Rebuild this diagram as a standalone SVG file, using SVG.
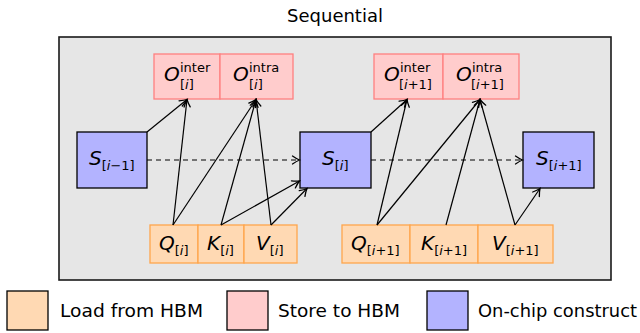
<svg xmlns="http://www.w3.org/2000/svg" width="640" height="333" viewBox="0 0 640 333">
<style>
text{font-family:"DejaVu Sans",sans-serif;fill:#000}
.m{font-style:italic;font-size:20px}
.s{font-style:normal;font-size:13px}
.i{font-style:italic}
.load{fill:#ffd9b3;stroke:#ffa64d;stroke-width:1.3}
.store{fill:#ffcccc;stroke:#ff8080;stroke-width:1.3}
.chip{fill:#b3b3ff;stroke:#000;stroke-width:1.3}
.leg{stroke:#000;stroke-width:1.3}
.c{fill:none;stroke:#000;stroke-width:1.2;marker-end:url(#ah)}
.d{stroke-dasharray:5 4}
.lt{font-size:17px}
</style>
<defs>
<marker id="ah" viewBox="-9 -5 11 10" refX="0" refY="0" markerWidth="11" markerHeight="10" markerUnits="userSpaceOnUse" orient="auto">
<path d="M-7,-4 Q-3,-1.2 0,0 Q-3,1.2 -7,4" fill="none" stroke="#000" stroke-width="1.3" stroke-linecap="round"/>
</marker>
</defs>
<text x="335" y="22" text-anchor="middle" font-size="18">Sequential</text>
<rect id="frame" x="59" y="37" width="552" height="243" fill="#e6e6e6" stroke="#1a1a1a" stroke-width="1.6"/>

<g id="O_inter_i">
<rect class="store" x="154" y="54" width="66" height="45"/>
<text class="m" x="164" y="81">O</text>
<text class="s" x="180" y="72">inter</text>
<text class="s" x="180" y="89">[<tspan class="i">i</tspan>]</text>
</g>
<g id="O_intra_i">
<rect class="store" x="220" y="54" width="73" height="45"/>
<text class="m" x="233" y="81">O</text>
<text class="s" x="249" y="72">intra</text>
<text class="s" x="249" y="89">[<tspan class="i">i</tspan>]</text>
</g>
<g id="O_inter_i1">
<rect class="store" x="374" y="54" width="69" height="45"/>
<text class="m" x="384" y="81">O</text>
<text class="s" x="400" y="72">inter</text>
<text class="s" x="399" y="89">[<tspan class="i">i</tspan>+1]</text>
</g>
<g id="O_intra_i1">
<rect class="store" x="443" y="54" width="76" height="45"/>
<text class="m" x="456" y="81">O</text>
<text class="s" x="472" y="72">intra</text>
<text class="s" x="471" y="89">[<tspan class="i">i</tspan>+1]</text>
</g>

<g id="S_im1">
<rect class="chip" x="77" y="132" width="70" height="56"/>
<text class="m" x="89" y="165">S<tspan class="s" dy="5">[<tspan class="i">i</tspan>−1]</tspan></text>
</g>
<g id="S_i">
<rect class="chip" x="300" y="132" width="71" height="56"/>
<text class="m" x="322" y="165">S<tspan class="s" dy="5">[<tspan class="i">i</tspan>]</tspan></text>
</g>
<g id="S_ip1">
<rect class="chip" x="523" y="132" width="71" height="56"/>
<text class="m" x="536" y="165">S<tspan class="s" dy="5">[<tspan class="i">i</tspan>+1]</tspan></text>
</g>

<g id="Q_i">
<rect class="load" x="150" y="225" width="48" height="38"/>
<text class="m" x="159" y="250">Q<tspan class="s" dy="5">[<tspan class="i">i</tspan>]</tspan></text>
</g>
<g id="K_i">
<rect class="load" x="198" y="225" width="46" height="38"/>
<text class="m" x="207" y="250">K<tspan class="s" dy="5">[<tspan class="i">i</tspan>]</tspan></text>
</g>
<g id="V_i">
<rect class="load" x="244" y="225" width="53" height="38"/>
<text class="m" x="256" y="250">V<tspan class="s" dy="5">[<tspan class="i">i</tspan>]</tspan></text>
</g>
<g id="Q_ip1">
<rect class="load" x="342" y="225" width="68" height="38"/>
<text class="m" x="351" y="250">Q<tspan class="s" dy="5">[<tspan class="i">i</tspan>+1]</tspan></text>
</g>
<g id="K_ip1">
<rect class="load" x="410" y="225" width="68" height="38"/>
<text class="m" x="421" y="250">K<tspan class="s" dy="5">[<tspan class="i">i</tspan>+1]</tspan></text>
</g>
<g id="V_ip1">
<rect class="load" x="478" y="225" width="75" height="38"/>
<text class="m" x="492" y="250">V<tspan class="s" dy="5">[<tspan class="i">i</tspan>+1]</tspan></text>
</g>

<g id="connectors">
<line class="c" x1="147" y1="132" x2="187" y2="99.5"/>
<line class="c" x1="173" y1="225" x2="187" y2="99.5"/>
<line class="c" x1="173" y1="225" x2="256" y2="99.5"/>
<line class="c" x1="221" y1="225" x2="256" y2="99.5"/>
<line class="c" x1="271" y1="225" x2="256" y2="99.5"/>
<line class="c" x1="221" y1="225" x2="299.5" y2="181"/>
<line class="c" x1="271" y1="225" x2="307" y2="188.5"/>
<line class="c d" x1="147" y1="160" x2="299.5" y2="160"/>
<line class="c" x1="371" y1="132" x2="407" y2="99.5"/>
<line class="c" x1="377" y1="225" x2="407" y2="99.5"/>
<line class="c" x1="377" y1="225" x2="480" y2="99.5"/>
<line class="c" x1="446" y1="225" x2="480" y2="99.5"/>
<line class="c" x1="515" y1="225" x2="480" y2="99.5"/>
<line class="c" x1="515" y1="225" x2="540" y2="188.5"/>
<line class="c d" x1="371" y1="160" x2="522.5" y2="160"/>
</g>

<g id="legend">
<rect class="leg" x="7" y="291" width="41" height="39" fill="#ffd9b3"/>
<text class="lt" x="60" y="317" textLength="143" lengthAdjust="spacingAndGlyphs">Load from HBM</text>
<rect class="leg" x="227" y="291" width="41" height="39" fill="#ffcccc"/>
<text class="lt" x="278" y="317" textLength="122" lengthAdjust="spacingAndGlyphs">Store to HBM</text>
<rect class="leg" x="427" y="291" width="41" height="39" fill="#b3b3ff"/>
<text class="lt" x="478" y="317" textLength="159" lengthAdjust="spacingAndGlyphs">On-chip construct</text>
</g>
</svg>
